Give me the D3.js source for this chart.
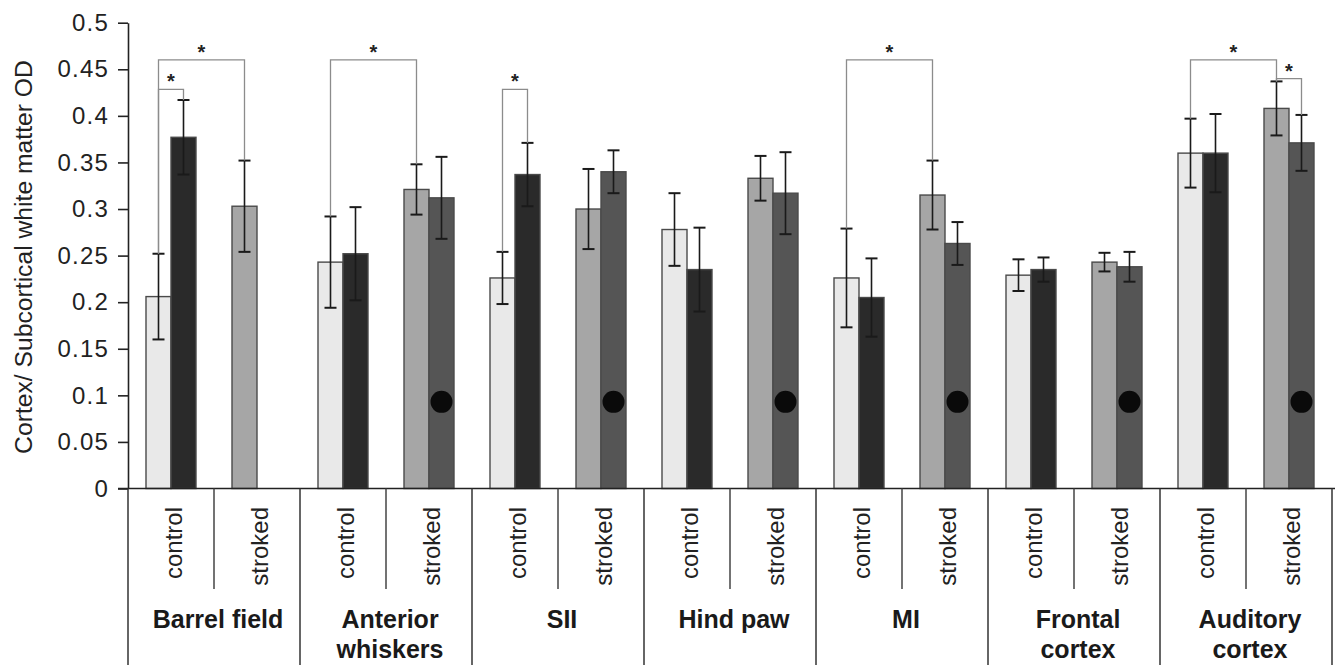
<!DOCTYPE html>
<html>
<head>
<meta charset="utf-8">
<script src="https://cdn.jsdelivr.net/npm/d3@7"></script>
<style>
  html, body { margin: 0; padding: 0; background: #fff; }
  svg { display: block; font-family: "Liberation Sans", Arial, Helvetica, sans-serif; }
</style>
</head>
<body>
<svg id="chart" width="1335" height="665"></svg>
<script>
// ---------- data ----------
const regions = ["Barrel field", "Anterior whiskers", "SII", "Hind paw", "MI", "Frontal cortex", "Auditory cortex"];
const regionLines = [["Barrel field"], ["Anterior", "whiskers"], ["SII"], ["Hind paw"], ["MI"], ["Frontal", "cortex"], ["Auditory", "cortex"]];
const conditions = ["control", "stroked"];

const controlA    = [0.206, 0.243, 0.226, 0.278, 0.226, 0.229, 0.360];
const controlAErr = [0.046, 0.049, 0.028, 0.039, 0.053, 0.017, 0.037];
const controlB    = [0.377, 0.252, 0.337, 0.235, 0.205, 0.235, 0.360];
const controlBErr = [0.040, 0.050, 0.034, 0.045, 0.042, 0.013, 0.042];
const strokedA    = [0.303, 0.321, 0.300, 0.333, 0.315, 0.243, 0.408];
const strokedAErr = [0.049, 0.027, 0.043, 0.024, 0.037, 0.010, 0.029];
const strokedB    = [null, 0.312, 0.340, 0.317, 0.263, 0.238, 0.371];
const strokedBErr = [null, 0.044, 0.023, 0.044, 0.023, 0.016, 0.030];
const dotValue = 0.093;

const yTicks = [0, 0.05, 0.1, 0.15, 0.2, 0.25, 0.3, 0.35, 0.4, 0.45, 0.5];
const yTickLabels = ["0", "0.05", "0.1", "0.15", "0.2", "0.25", "0.3", "0.35", "0.4", "0.45", "0.5"];
const yLabel = "Cortex/ Subcortical white matter OD";

// significance brackets: region index, from series, to series, bracket height
const brackets = [
  { region: 0, from: "cA", to: "cB", level: 0.4285 },
  { region: 0, from: "cA", to: "sA", level: 0.46 },
  { region: 1, from: "cA", to: "sA", level: 0.46 },
  { region: 2, from: "cA", to: "cB", level: 0.4285 },
  { region: 4, from: "cA", to: "sA", level: 0.46 },
  { region: 6, from: "cA", to: "sA", level: 0.46 },
  { region: 6, from: "sA", to: "sB", level: 0.44 }
];

// ---------- series table ----------
const seriesDefs = [
  { key: "cA", cond: "control", slot: "a", vals: controlA, errs: controlAErr, fill: "#e9e9e9" },
  { key: "cB", cond: "control", slot: "b", vals: controlB, errs: controlBErr, fill: "#2a2a2a" },
  { key: "sA", cond: "stroked", slot: "a", vals: strokedA, errs: strokedAErr, fill: "#a6a6a6" },
  { key: "sB", cond: "stroked", slot: "b", vals: strokedB, errs: strokedBErr, fill: "#555555" }
];
const bars = [];
seriesDefs.forEach(s => regions.forEach((r, i) => {
  if (s.vals[i] != null) bars.push({ key: s.key, cond: s.cond, slot: s.slot, region: r, ri: i, v: s.vals[i], e: s.errs[i], fill: s.fill });
}));

// ---------- scales ----------
const svg = d3.select("#chart");
const plotLeft = 128, plotRight = 1332, plotTop = 22.7, plotBottom = 488.5;
const x0 = d3.scaleBand().domain(regions).range([plotLeft, plotRight]).padding(0);
const x1 = d3.scaleBand().domain(conditions).range([0, x0.bandwidth()]).padding(0);
const barW = 25;
const xs = d3.scaleBand().domain(["a", "b"]).range([-barW, barW]).padding(0);
const y = d3.scaleLinear().domain([0, 0.5]).range([plotBottom, plotTop]);

const subCenter = (region, cond) => x0(region) + x1(cond) + x1.bandwidth() / 2;
const barX = d => subCenter(d.region, d.cond) + xs(d.slot);
const barCenter = d => barX(d) + xs.bandwidth() / 2;
const findBar = (ri, key) => bars.find(b => b.ri === ri && b.key === key);

// ---------- bars ----------
svg.append("g").selectAll("rect").data(bars).join("rect")
  .attr("x", barX)
  .attr("y", d => y(d.v))
  .attr("width", xs.bandwidth())
  .attr("height", d => y(0) - y(d.v))
  .attr("fill", d => d.fill)
  .attr("stroke", "#4a4a4a")
  .attr("stroke-width", 1.4);

// ---------- error bars ----------
const eg = svg.append("g").attr("stroke", "#1a1a1a");
eg.selectAll("line.v").data(bars).join("line").attr("class", "v")
  .attr("x1", barCenter).attr("x2", barCenter)
  .attr("y1", d => y(d.v + d.e)).attr("y2", d => y(d.v - d.e))
  .attr("stroke-width", 1.6);
["hi", "lo"].forEach(k => {
  eg.selectAll("line." + k).data(bars).join("line").attr("class", k)
    .attr("x1", d => barCenter(d) - 6).attr("x2", d => barCenter(d) + 6)
    .attr("y1", d => y(k === "hi" ? d.v + d.e : d.v - d.e))
    .attr("y2", d => y(k === "hi" ? d.v + d.e : d.v - d.e))
    .attr("stroke-width", 2);
});

// ---------- black dots on stroked B ----------
svg.append("g").selectAll("circle").data(bars.filter(b => b.key === "sB")).join("circle")
  .attr("cx", barCenter).attr("cy", y(dotValue)).attr("r", 11).attr("fill", "#0a0a0a");

// ---------- significance brackets ----------
const bg = svg.append("g");
brackets.forEach(br => {
  const a = findBar(br.region, br.from), b = findBar(br.region, br.to);
  const xa = barCenter(a), xb = barCenter(b), yl = y(br.level);
  bg.append("path")
    .attr("d", `M${xa},${y(a.v + a.e)}V${yl}H${xb}V${y(b.v + b.e)}`)
    .attr("fill", "none").attr("stroke", "#8c8c8c").attr("stroke-width", 1.3);
  bg.append("text")
    .attr("x", (xa + xb) / 2).attr("y", yl - 1)
    .attr("text-anchor", "middle")
    .attr("font-size", 20).attr("font-weight", "bold").attr("fill", "#222")
    .text("*");
});

// ---------- y axis ----------
const yAxis = d3.axisLeft(y).tickValues(yTicks).tickFormat((d, i) => yTickLabels[i])
  .tickSize(10).tickSizeOuter(0).tickPadding(9);
const ga = svg.append("g").attr("transform", `translate(${plotLeft},0)`).call(yAxis);
ga.select(".domain").attr("stroke", "#222").attr("stroke-width", 1.6);
ga.selectAll(".tick line").attr("stroke", "#222").attr("stroke-width", 1.6);
ga.selectAll(".tick text").attr("font-size", 24).attr("fill", "#222")
  .attr("letter-spacing", 1.2)
  .attr("font-family", "'Liberation Sans', Arial, sans-serif");

svg.append("text")
  .attr("transform", `translate(32,257) rotate(-90)`)
  .attr("text-anchor", "middle")
  .attr("font-size", 24.7).attr("fill", "#222")
  .text(yLabel);

// ---------- x axis / category table ----------
const xg = svg.append("g");
xg.append("line").attr("x1", plotLeft - 10).attr("x2", 1335).attr("y1", plotBottom).attr("y2", plotBottom)
  .attr("stroke", "#222").attr("stroke-width", 1.6);
const bounds = regions.map(r => x0(r)).concat([x0(regions[regions.length - 1]) + x0.bandwidth()]);
xg.selectAll("line.major").data(bounds).join("line").attr("class", "major")
  .attr("x1", d => d).attr("x2", d => d).attr("y1", plotBottom).attr("y2", 665)
  .attr("stroke", "#333").attr("stroke-width", 1.5);
xg.selectAll("line.minor").data(regions).join("line").attr("class", "minor")
  .attr("x1", r => x0(r) + x1("stroked")).attr("x2", r => x0(r) + x1("stroked"))
  .attr("y1", plotBottom).attr("y2", 589)
  .attr("stroke", "#444").attr("stroke-width", 1.5);

const condLabels = [];
regions.forEach(r => conditions.forEach(c => condLabels.push({ r, c })));
xg.selectAll("text.cond").data(condLabels).join("text").attr("class", "cond")
  .attr("transform", d => `translate(${subCenter(d.r, d.c) + 11},507) rotate(-90)`)
  .attr("text-anchor", "end")
  .attr("font-size", 24).attr("fill", "#222")
  .text(d => d.c);

regions.forEach((r, i) => {
  const lines = regionLines[i];
  const cx = x0(r) + x0.bandwidth() / 2 + 4;
  const t = xg.append("text")
    .attr("x", cx)
    .attr("text-anchor", "middle")
    .attr("font-size", 25).attr("font-weight", "bold").attr("fill", "#1a1a1a");
  lines.forEach((ln, k) => {
    t.append("tspan").attr("x", cx).attr("y", 628 + k * 30).text(ln);
  });
});
</script>
</body>
</html>
